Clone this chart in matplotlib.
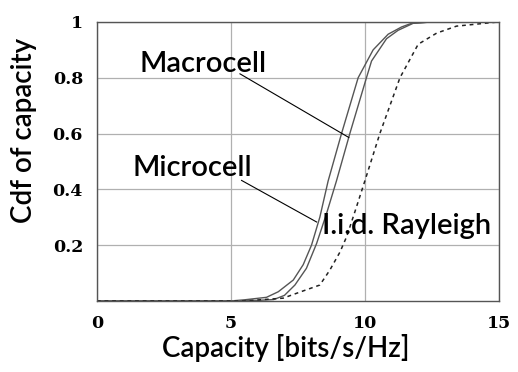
import matplotlib
matplotlib.use("Agg")
import matplotlib.pyplot as plt

micro_x = [0, 5, 5.5, 6.33, 6.77, 7.33, 7.7, 8.01, 8.32, 8.63, 9.13, 9.75, 10.31, 10.87, 11.37, 11.74, 12.5, 15]
micro_y = [0, 0, 0.004, 0.013, 0.033, 0.075, 0.13, 0.2, 0.3, 0.43, 0.6, 0.8, 0.9, 0.956, 0.982, 0.995, 1, 1]
macro_x = [0, 5, 6.0, 6.6, 7.0, 7.39, 7.82, 8.2, 8.57, 8.94, 9.44, 10.06, 10.25, 10.81, 11.24, 11.8, 12.5, 15]
macro_y = [0, 0, 0.002, 0.005, 0.02, 0.057, 0.117, 0.206, 0.313, 0.43, 0.6, 0.8, 0.86, 0.94, 0.97, 0.995, 1, 1]
ray_x = [0, 5.5, 6.95, 7.7, 8.32, 8.69, 9.07, 9.32, 9.63, 10.0, 10.56, 11.31, 11.99, 12.68, 13.42, 14.67, 15]
ray_y = [0, 0, 0.01, 0.036, 0.057, 0.11, 0.175, 0.23, 0.32, 0.43, 0.6, 0.8, 0.92, 0.96, 0.985, 0.997, 1]

xticks = [0, 5, 10, 15]
yticks = [0.2, 0.4, 0.6, 0.8, 1.0]
ytick_labels = ["0.2", "0.4", "0.6", "0.8", "1"]

fig = plt.figure(figsize=(5.18, 3.72), dpi=100)
ax = fig.add_axes([0.187, 0.191, 0.776, 0.75])

ax.plot(micro_x, micro_y, color="#555555", lw=1.0)
ax.plot(macro_x, macro_y, color="#555555", lw=1.0)
ax.plot(ray_x, ray_y, color="#222222", lw=1.1, linestyle=(0, (2.5, 2.5)))

ax.set_xlim(0, 15)
ax.set_ylim(0, 1)
ax.grid(True, color="#b0b0b0", lw=0.9)
ax.set_axisbelow(True)
for s in ax.spines.values():
    s.set_color("#555555")
    s.set_linewidth(1.0)
tick_font = dict(family="DejaVu Serif", weight="bold", size=12.5)
ax.set_xticks(xticks)
ax.set_xticklabels([str(v) for v in xticks], fontdict=tick_font)
ax.set_yticks(yticks)
ax.set_yticklabels(ytick_labels, fontdict=tick_font)
ax.tick_params(length=0, pad=10)

lab_font = dict(family="Lato", size=20, weight=600)
ax.set_xlabel("Capacity [bits/s/Hz]", fontdict=lab_font)
ax.set_ylabel("Cdf of capacity", fontdict=lab_font)
ax.xaxis.set_label_coords(0.47, -0.12)
ax.yaxis.set_label_coords(-0.15, 0.61)

tfs = 21
ax.text(1.6, 0.85, "Macrocell", fontsize=tfs, family="Lato", weight=600, va="center", ha="left")
ax.text(1.34, 0.475, "Microcell", fontsize=tfs, family="Lato", weight=600, va="center", ha="left")
ax.text(8.4, 0.27, "I.i.d. Rayleigh", fontsize=tfs, family="Lato", weight=600, va="center", ha="left")
ax.plot([5.34, 9.40], [0.814, 0.586], color="black", lw=0.8)
ax.plot([5.4, 8.2], [0.432, 0.283], color="black", lw=0.8)

fig.savefig("out.png", dpi=100)
